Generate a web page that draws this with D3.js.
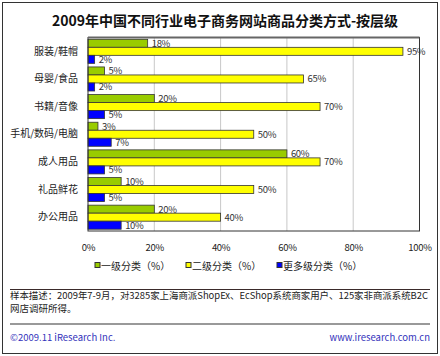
<!DOCTYPE html>
<html><head><meta charset="utf-8">
<script src="https://cdn.jsdelivr.net/npm/d3@7"></script>
<style>body{margin:0;background:#fff}svg{display:block}text{font-family:"Noto Sans CJK SC","DejaVu Sans",sans-serif}</style>
</head><body>
<svg id="c" width="440" height="356"></svg>
<script>
const categories = ["服装/鞋帽","母婴/食品","书籍/音像","手机/数码/电脑","成人用品","礼品鲜花","办公用品"];
const level1 = [18,5,20,3,60,10,20];
const level2 = [95,65,70,50,70,50,40];
const levelMore = [2,2,5,7,5,5,10];
const seriesNames = ["一级分类（%）","二级分类（%）","更多级分类（%）"];
const seriesColors = ["#99cc00","#ffff00","#0000ff"];
const tickValues = [0,20,40,60,80,100];

const series = [level1, level2, levelMore];
const svg = d3.select("#c");
svg.append("rect").attr("x",2.5).attr("y",2.5).attr("width",435).attr("height",351).attr("fill","#fff").attr("stroke","#333").attr("stroke-width",1);

svg.append("text").attr("x",225).attr("y",26).attr("text-anchor","middle")
  .attr("font-size",14).attr("font-weight","bold").attr("fill","#111")
  .text("2009年中国不同行业电子商务网站商品分类方式-按层级");

const L=88, R=419.5, T=37.5, B=231;
const x = d3.scaleLinear().domain([0,100]).range([L,R]);
const y0 = d3.scaleBand().domain(categories).range([T,B]).paddingInner(0.13).paddingOuter(0.065);
const y1 = d3.scaleBand().domain([0,1,2]).range([0,y0.bandwidth()]);

// gridlines
svg.append("g").selectAll("line").data(tickValues.slice(1,-1)).join("line")
  .attr("x1",d=>x(d)).attr("x2",d=>x(d)).attr("y1",T).attr("y2",B)
  .attr("stroke","#c8c8c8").attr("stroke-width",1);

// bars
const g = svg.append("g");
categories.forEach((c,i)=>{
  series.forEach((s,j)=>{
    const yy = y0(c)+y1(j);
    g.append("rect").attr("x",x(0)).attr("y",yy).attr("width",x(s[i])-x(0)).attr("height",y1.bandwidth())
      .attr("fill",seriesColors[j]).attr("stroke","#333").attr("stroke-width",0.8);
    g.append("text").attr("x",x(s[i])+4).attr("y",yy+y1.bandwidth()/2+3.5)
      .attr("font-size",9.5).attr("fill","#333").attr("font-family","DejaVu Sans, sans-serif").attr("letter-spacing","-0.3").text(s[i]+"%");
  });
});

// plot frame
svg.append("rect").attr("x",L).attr("y",T).attr("width",R-L).attr("height",B-T)
  .attr("fill","none").attr("stroke","#333").attr("stroke-width",1);
svg.append("line").attr("x1",L).attr("x2",R).attr("y1",T).attr("y2",T).attr("stroke","#666").attr("stroke-width",2);

// category axis
const yAxis = d3.axisLeft(y0).tickSize(0).tickPadding(10);
const ya = svg.append("g").attr("transform",`translate(${L},0)`).call(yAxis);
ya.select(".domain").remove();
ya.selectAll("text").attr("font-size",10).attr("fill","#222");

// x axis
const xAxis = d3.axisBottom(x).tickValues(tickValues).tickFormat(d=>d+"%").tickSize(0).tickPadding(13);
const xa = svg.append("g").attr("transform",`translate(0,${B})`).call(xAxis);
xa.select(".domain").remove();
xa.selectAll("text").attr("font-size",9.5).attr("fill","#222").attr("font-family","DejaVu Sans, sans-serif").attr("letter-spacing","-0.3");

// legend
const legX = [95,186,277];
seriesNames.forEach((n,j)=>{
  svg.append("rect").attr("x",legX[j]).attr("y",262.5).attr("width",5).attr("height",5)
    .attr("fill",seriesColors[j]).attr("stroke","#333").attr("stroke-width",1);
  svg.append("text").attr("x",legX[j]+6).attr("y",269.5).attr("font-size",10).attr("fill","#222").text(n);
});

// separators
svg.append("line").attr("x1",10).attr("x2",430).attr("y1",289.5).attr("y2",289.5).attr("stroke","#3a2a2a").attr("stroke-width",1);
svg.append("line").attr("x1",10).attr("x2",430).attr("y1",324).attr("y2",324).attr("stroke","#777").attr("stroke-width",1.5);

svg.append("text").attr("x",10).attr("y",298.5).attr("font-size",9.5).attr("fill","#222")
  .attr("textLength",418).attr("lengthAdjust","spacingAndGlyphs")
  .text("样本描述：2009年7-9月，对3285家上海商派ShopEx、EcShop系统商家用户、125家非商派系统B2C");
svg.append("text").attr("x",10).attr("y",312).attr("font-size",9.5).attr("fill","#222").text("网店调研所得。");

svg.append("text").attr("x",10).attr("y",341).attr("font-size",9.5).attr("fill","#3333bb").text("©2009.11  iResearch Inc.");
svg.append("text").attr("x",430).attr("y",341).attr("text-anchor","end").attr("font-size",9.5).attr("fill","#3333bb").text("www.iresearch.com.cn");
</script>
</body></html>
